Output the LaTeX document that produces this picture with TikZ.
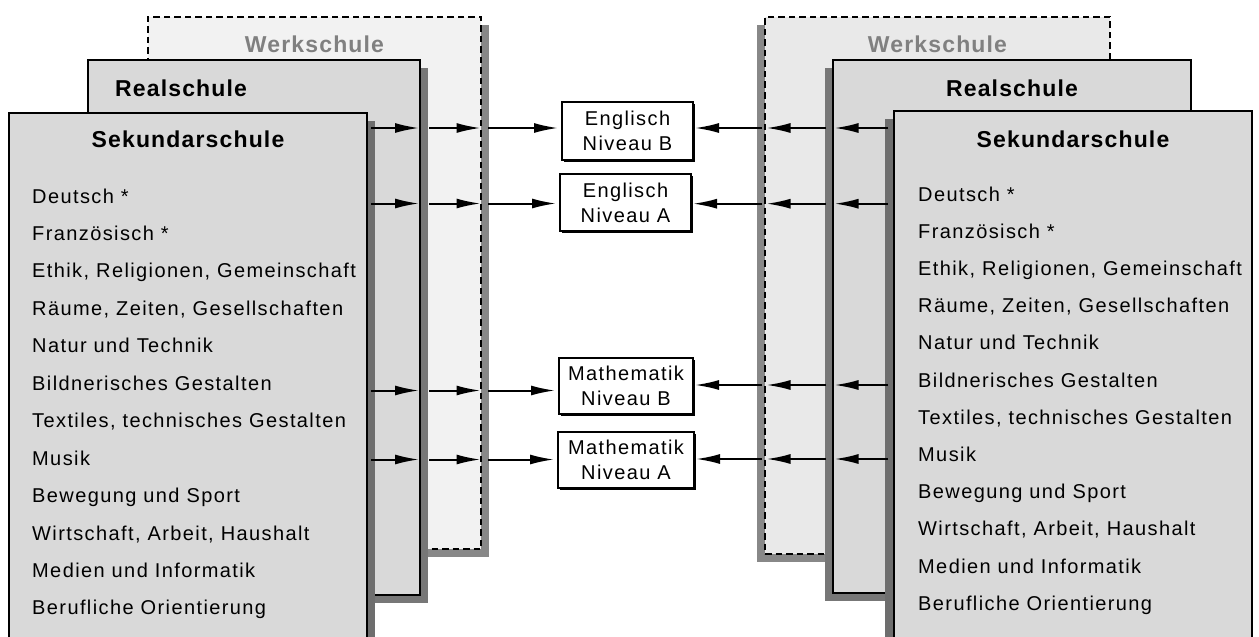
\documentclass[tikz,border=0pt]{standalone}
\usepackage{fontspec}
\setmainfont{Liberation Sans}
\newfontfamily\itemfam{Liberation Sans}[LetterSpace=7]
\newfontfamily\titlefam{Liberation Sans}[LetterSpace=5]
\usetikzlibrary{arrows.meta,shadows,calc}
\definecolor{werkLfill}{HTML}{F2F2F2}
\definecolor{werkRfill}{HTML}{E9E9E9}
\definecolor{boxfill}{HTML}{D9D9D9}
\definecolor{shadeA}{HTML}{888888}
\definecolor{shadeB}{HTML}{777777}
\definecolor{shadeC}{HTML}{6E6E6E}
\definecolor{titlegray}{HTML}{808080}
\tikzset{
  bigbox/.style={draw, line width=1.9pt, fill=boxfill, anchor=north west, inner sep=0pt, outer sep=0pt},
  werkbox/.style={bigbox, dash pattern=on 6.5pt off 4pt},
  shR/.style={general shadow={fill=#1, shadow xshift=8pt, shadow yshift=-8pt}},
  shL/.style={general shadow={fill=#1, shadow xshift=-8pt, shadow yshift=-8pt}},
  ttl/.style={inner sep=0pt, font=\titlefam\bfseries\fontsize{23}{28}\selectfont},
  itm/.style={inner sep=0pt, anchor=base west, font=\itemfam\fontsize{20}{25}\selectfont},
  sbox/.style={draw, line width=2pt, fill=white, align=center, inner sep=0pt, outer sep=0pt,
    font=\itemfam\fontsize{20}{25}\selectfont,
    general shadow={fill=black, shadow xshift=1.8pt, shadow yshift=-1.8pt}},
  arr/.style={line width=2pt, -{Latex[length=24pt,width=10pt]}}
}
\begin{document}
\begin{tikzpicture}[x=1pt,y=-1pt]
\clip (0,0) rectangle (1259,637);
\fill[white] (0,0) rectangle (1259,637);

% left stack
\node[werkbox, fill=werkLfill, shR=shadeA, minimum width=333pt, minimum height=532pt] (werkL) at (148,17) {};
\node[bigbox, shR=shadeB, minimum width=332pt, minimum height=535pt] (realL) at (88,60) {};
\node[bigbox, shR=shadeC, minimum width=358pt, minimum height=560pt] (sekL) at (9,113) {};

% right stack
\node[werkbox, fill=werkRfill, shL=shadeA, minimum width=345pt, minimum height=537pt] (werkR) at (765,17) {};
\node[bigbox, shL=shadeB, minimum width=358pt, minimum height=533pt] (realR) at (833,60) {};
\node[bigbox, general shadow={fill=shadeC, shadow xshift=-9pt, shadow yshift=-8pt}, minimum width=358pt, minimum height=560pt] (sekR) at (894,111) {};

% titles
\node[ttl, text=titlegray, anchor=base] (tWL) at (314.5,52) {Werkschule};
\node[ttl, anchor=base west] (tRL) at (115,96.5) {Realschule};
\node[ttl, anchor=base] (tSL) at (188,147) {Sekundarschule};
\node[ttl, text=titlegray, anchor=base] (tWR) at (937.5,52) {Werkschule};
\node[ttl, anchor=base] (tRR) at (1012,96.5) {Realschule};
\node[ttl, anchor=base] (tSR) at (1073,147) {Sekundarschule};

% subject lists
\foreach \t [count=\i from 0] in {Deutsch *, Französisch *, {Ethik, Religionen, Gemeinschaft},
  {Räume, Zeiten, Gesellschaften}, Natur und Technik, Bildnerisches Gestalten,
  {Textiles, technisches Gestalten}, Musik, Bewegung und Sport,
  {Wirtschaft, Arbeit, Haushalt}, Medien und Informatik, Berufliche Orientierung}{
  \node[itm] (iL\i) at (32,{203+37.45*\i}) {\t};
  \node[itm] (iR\i) at (918,{201+37.2*\i}) {\t};
}

% level boxes
\node[sbox, minimum width=131pt, minimum height=58pt] (englB) at (627.5,131) {Englisch\\Niveau B};
\node[sbox, minimum width=131pt, minimum height=57pt] (englA) at (625.5,202.5) {Englisch\\Niveau A};
\node[sbox, minimum width=134pt, minimum height=56pt] (mathB) at (626,386) {Mathematik\\Niveau B};
\node[sbox, minimum width=136pt, minimum height=56pt] (mathA) at (626,460) {Mathematik\\Niveau A};

% row coordinates
\coordinate (L1) at (0,128);
\coordinate (L2) at (0,203.5);
\coordinate (L3) at (0,390.5);
\coordinate (L4) at (0,459.5);
\coordinate (R1) at (0,128);
\coordinate (R2) at (0,203.7);
\coordinate (R3) at (0,385);
\coordinate (R4) at (0,459);

% left arrows
\foreach \r/\tg in {L1/englB, L2/englA, L3/mathB, L4/mathA}{
  \draw[arr] ($(sekL.east |- \r)+(4,0)$) -- ($(realL.east |- \r)+(-1,0)$);
  \draw[arr] ($(realL.east |- \r)+(9,0)$) -- ($(werkL.east |- \r)+(-0.5,0)$);
  \draw[arr] ($(werkL.east |- \r)+(7,0)$) -- ($(\tg.west |- \r)+(-4,0)$);
}
% right arrows
\foreach \r/\tg in {R1/englB, R2/englA, R3/mathB, R4/mathA}{
  \draw[arr] ($(sekR.west |- \r)+(-6,0)$) -- ($(realR.west |- \r)+(1.5,0)$);
  \draw[arr] ($(realR.west |- \r)+(-7,0)$) -- ($(werkR.west |- \r)+(1.5,0)$);
  \draw[arr] ($(werkR.west |- \r)+(-3,0)$) -- ($(\tg.east |- \r)+(2,0)$);
}
\end{tikzpicture}
\end{document}
